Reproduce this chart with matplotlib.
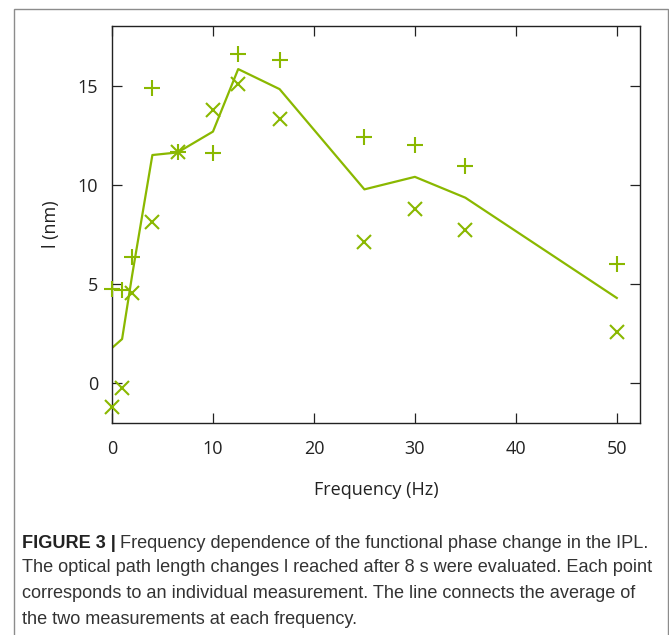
import matplotlib
matplotlib.use("Agg")
import matplotlib.pyplot as plt
from matplotlib.patches import Rectangle

freq = [0, 1, 2, 4, 6.5, 10, 12.5, 16.6, 25, 30, 35, 50]
meas_plus = [4.75, 4.7, 6.36, 14.88, 11.63, 11.6, 16.57, 16.3, 12.4, 12.02, 10.96, 6.0]
meas_x = [-1.2, -0.24, 4.56, 8.15, 11.63, 13.75, 15.1, 13.33, 7.14, 8.77, 7.73, 2.6]
mean_line = [1.78, 2.23, 5.46, 11.5, 11.63, 12.68, 15.83, 14.82, 9.77, 10.4, 9.35, 4.3]

xticks = [0, 10, 20, 30, 40, 50]
yticks = [0, 5, 10, 15]

color = '#8ab800'
W, H = 669, 635
fig = plt.figure(figsize=(W / 100, H / 100), dpi=100)

# outer frame
fig.patches.append(Rectangle((14 / W, -0.05), (668 - 14) / W, 1 - 9 / H + 0.05,
                             transform=fig.transFigure, fill=False,
                             edgecolor='#8c8c8c', linewidth=1.0))

ax = fig.add_axes([112 / W, 1 - 423 / H, (640 - 112) / W, (423 - 26) / H])
ax.plot(freq, mean_line, color=color, linewidth=1.6, zorder=2)
ax.plot(freq, meas_plus, linestyle='none', marker='+', markersize=11,
        markeredgewidth=1.5, color=color, clip_on=False, zorder=3)
ax.plot(freq, meas_x, linestyle='none', marker='x', markersize=9.5,
        markeredgewidth=1.5, color=color, clip_on=False, zorder=3)

ax.set_xlim(0, 52.3)
ax.set_ylim(-2, 18)
ax.set_xticks(xticks)
ax.set_yticks(yticks)
ax.tick_params(direction='in', length=7, width=0.9, top=True, right=True,
               labelsize=13, colors='#222222', pad=10)
ax.tick_params(axis='x', pad=12)
for lab in ax.get_xticklabels() + ax.get_yticklabels():
    lab.set_fontfamily('Open Sans')
for s in ax.spines.values():
    s.set_linewidth(1.0)
    s.set_color('#222222')

ax.set_xlabel('Frequency (Hz)', fontfamily='Open Sans', fontsize=13, labelpad=17, color='#222222')
ax.set_ylabel('l (nm)', fontfamily='Open Sans', fontsize=13, labelpad=13, color='#222222')

cap_font = ['Liberation Sans', 'DejaVu Sans']
cap_size = 13.1
lines_y = [543, 568, 594, 620]
fig.canvas.draw()
r = fig.canvas.get_renderer()
t1 = fig.text(22 / W, 1 - lines_y[0] / H, 'FIGURE 3 |', fontfamily=cap_font,
              fontweight='bold', fontsize=cap_size, va='center', color='#222222')
bb = t1.get_window_extent(renderer=r)
fig.text((bb.x1 + 4) / W, 1 - lines_y[0] / H,
         'Frequency dependence of the functional phase change in the IPL.',
         fontfamily=cap_font, fontsize=cap_size, va='center', color='#333333')
rest = ['The optical path length changes l reached after 8 s were evaluated. Each point',
        'corresponds to an individual measurement. The line connects the average of',
        'the two measurements at each frequency.']
for yy, txt in zip(lines_y[1:], rest):
    fig.text(22 / W, 1 - yy / H, txt, fontfamily=cap_font, fontsize=cap_size,
             va='center', color='#333333')

fig.savefig('out.png', dpi=100)
